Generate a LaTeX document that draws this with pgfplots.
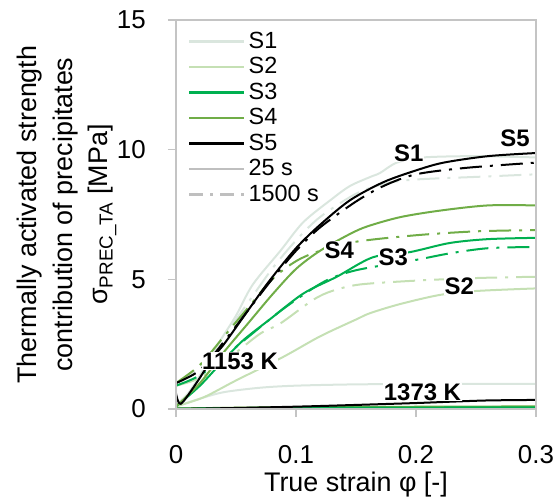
\documentclass[border=0pt]{standalone}
\usepackage{fontspec}
\setmainfont{Liberation Sans}
\usepackage{pgfplots}
\pgfplotsset{compat=1.18}

\definecolor{sone}{RGB}{218,230,222}
\definecolor{stwo}{RGB}{197,224,180}
\definecolor{sthree}{RGB}{0,176,80}
\definecolor{sfour}{RGB}{112,173,71}
\definecolor{framegray}{RGB}{196,196,196}
\definecolor{leggray}{RGB}{191,191,191}

\tikzset{
  dd/.style={dash pattern=on 22bp off 8bp on 3bp off 8bp},
  crv/.style={line width=2bp, smooth, tension=0.5},
  lbl/.style={font=\fontsize{24}{24}\selectfont\bfseries, fill=white, inner sep=0.5bp},
}

\begin{document}
\begin{tikzpicture}
\begin{axis}[
    scale only axis,
    width=360bp, height=389bp,
    xmin=0, xmax=0.3,
    ymin=0, ymax=15,
    xtick={0,0.1,0.2,0.3}, xticklabels={0,0.1,0.2,0.3},
    ytick={0,5,10,15}, yticklabels={0,5,10,15},
    xtick pos=lower, ytick pos=left,
    tick align=outside, major tick length=8bp,
    axis line style={draw=framegray, line width=1.4bp},
    major tick style={draw=framegray, line width=1.4bp},
    tick label style={font=\fontsize{26}{26}\selectfont, inner sep=0pt},
    xticklabel style={anchor=base, yshift=-46bp},
    yticklabel style={anchor=east, xshift=-22bp},
    xlabel={True strain φ [-]},
    xlabel style={font=\fontsize{27}{27}\selectfont, at={(axis description cs:0.5,0)}, anchor=base, yshift=-82.5bp},
    legend style={at={(axis description cs:0.0333,0.978)}, anchor=north west, draw=none, fill=none,
        inner sep=0pt, row sep=0pt,
        font=\fontsize{23.5}{24}\selectfont,
        nodes={inner xsep=3bp, inner ysep=3.25bp, text height=16bp, text depth=3bp}},
    legend cell align=left,
    legend image code/.code={\draw[#1, line width=2.5bp] (0bp,0bp) -- (55bp,0bp);},
]
\coordinate (bl) at (rel axis cs:0,0);
\coordinate (tr) at (rel axis cs:1,1);
\coordinate (ml) at (rel axis cs:0,0.5);

\addlegendimage{sone}\addlegendentry{S1}
\addlegendimage{stwo}\addlegendentry{S2}
\addlegendimage{sthree}\addlegendentry{S3}
\addlegendimage{sfour}\addlegendentry{S4}
\addlegendimage{black}\addlegendentry{S5}
\addlegendimage{leggray}\addlegendentry{25 s}
\addlegendimage{leggray, dash pattern=on 14bp off 7bp on 3bp off 7bp}\addlegendentry{1500 s}

% ---- 1373 K ----
\addplot[crv, sone, forget plot] coordinates {
    (0,0.1) (0.02,0.4) (0.04,0.65) (0.07,0.82) (0.1,0.9) (0.15,0.95) (0.2,0.96) (0.3,0.97)
};
\addplot[crv, stwo, forget plot] coordinates {(0,0.02) (0.1,0.06) (0.3,0.08)};
\addplot[crv, sfour, forget plot] coordinates {(0,0.02) (0.1,0.07) (0.3,0.1)};
\addplot[crv, sthree, forget plot] coordinates {(0,0.01) (0.1,0.05) (0.3,0.06)};
\addplot[crv, black, forget plot] coordinates {
    (0,0.0) (0.05,0.04) (0.1,0.09) (0.145,0.15) (0.2,0.23) (0.228,0.28) (0.26,0.33) (0.3,0.35)
};

% ---- 1153 K, S1 ----
\addplot[crv, sone, forget plot] coordinates {
    (0,0.15) (0.01,0.6) (0.02,1.3) (0.035,2.5) (0.05,3.6) (0.064,4.8) (0.087,6.1)
    (0.106,7.2) (0.13,8.1) (0.145,8.6) (0.162,8.95) (0.17,9.1) (0.184,9.5)
    (0.206,9.7) (0.25,9.75) (0.3,9.7)
};
\addplot[crv, sone, dd, forget plot] coordinates {
    (0,1.0) (0.02,1.6) (0.04,2.8) (0.06,4.1) (0.08,5.4) (0.1,6.5) (0.12,7.4)
    (0.15,8.3) (0.175,8.7) (0.2,8.85) (0.25,8.95) (0.3,9.05)
};
% ---- S2 ----
\addplot[crv, stwo, forget plot] coordinates {
    (0,0.1) (0.023,0.45) (0.05,1.1) (0.089,2.0) (0.12,2.8) (0.15,3.45) (0.162,3.7)
    (0.187,4.05) (0.22,4.4) (0.25,4.55) (0.3,4.65)
};
\addplot[crv, stwo, dd, forget plot] coordinates {
    (0,0.9) (0.02,1.2) (0.045,2.0) (0.07,2.9) (0.087,3.3) (0.114,4.2) (0.13,4.55)
    (0.153,4.8) (0.2,4.95) (0.25,5.05) (0.3,5.1)
};
% ---- S3 ----
\addplot[crv, sthree, forget plot] coordinates {
    (0,0.1) (0.02,0.9) (0.04,1.9) (0.056,2.65) (0.078,3.45) (0.106,4.45) (0.134,5.1)
    (0.164,5.85) (0.195,6.05) (0.228,6.4) (0.26,6.55) (0.3,6.6)
};
\addplot[crv, sthree, dd, forget plot] coordinates {
    (0,0.9) (0.02,1.3) (0.045,2.2) (0.07,3.15) (0.092,3.95) (0.123,4.9) (0.15,5.35)
    (0.2,5.75) (0.228,6.0) (0.26,6.2) (0.3,6.25)
};
% ---- S4 ----
\addplot[crv, sfour, forget plot] coordinates {
    (0,0.1) (0.02,1.0) (0.04,2.2) (0.06,3.3) (0.08,4.4) (0.1,5.4) (0.12,6.1)
    (0.145,6.75) (0.16,7.05) (0.187,7.4) (0.22,7.65) (0.26,7.85) (0.3,7.85)
};
\addplot[crv, sfour, dd, forget plot] coordinates {
    (0,1.0) (0.02,1.7) (0.04,2.8) (0.06,3.9) (0.08,5.0) (0.1,5.7) (0.12,6.1)
    (0.15,6.45) (0.2,6.7) (0.25,6.85) (0.3,6.9)
};
% ---- S5 ----
\addplot[crv, black, forget plot] coordinates {
    (0,0.6) (0.004,0.2) (0.017,1.0) (0.031,2.0) (0.04,2.5) (0.06,3.8) (0.078,4.95)
    (0.1,6.2) (0.12,7.1) (0.145,8.05) (0.173,8.75) (0.2,9.2) (0.223,9.5)
    (0.26,9.75) (0.3,9.87)
};
\addplot[crv, black, dd, forget plot] coordinates {
    (0,1.0) (0.02,1.5) (0.04,2.6) (0.06,3.8) (0.08,5.0) (0.1,6.1) (0.12,7.0)
    (0.15,8.0) (0.173,8.6) (0.2,9.05) (0.242,9.3) (0.3,9.5)
};

% labels
\node[lbl] at (axis cs:0.194,9.88) {S1};
\node[lbl] at (axis cs:0.2825,10.44) {S5};
\node[lbl] at (axis cs:0.136,6.13) {S4};
\node[lbl] at (axis cs:0.181,5.84) {S3};
\node[lbl] at (axis cs:0.236,4.74) {S2};
\node[lbl] at (axis cs:0.0533,1.85) {1153 K};
\node[lbl] at (axis cs:0.2054,0.65) {1373 K};
\end{axis}
\draw[framegray, line width=1.4bp] (bl) rectangle (tr);
\node[rotate=90, align=center, font=\fontsize{27}{36}\selectfont, inner sep=0pt]
    at ([xshift=-109.5bp]ml)
    {Thermally activated strength\\contribution of precipitates\\σ\textsubscript{PREC\_TA} [MPa]};
\pgfresetboundingbox
\path ([shift={(-176bp,-94bp)}]bl) rectangle ([shift={(18bp,20bp)}]tr);
\end{tikzpicture}
\end{document}
